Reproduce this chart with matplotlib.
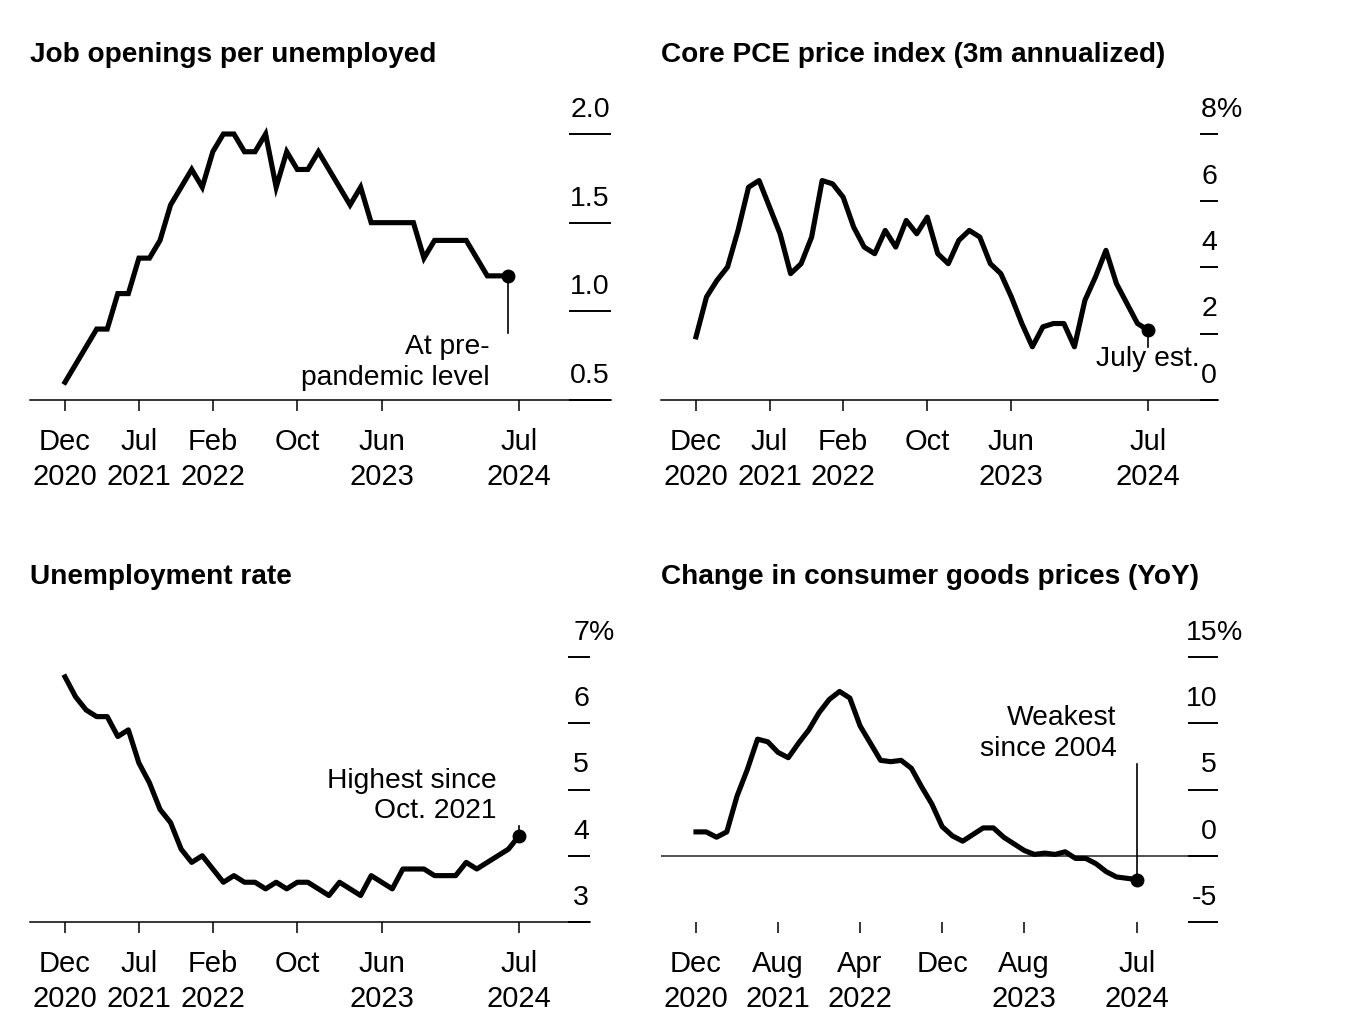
import matplotlib
matplotlib.use("Agg")
import matplotlib.pyplot as plt
import matplotlib.transforms as mtransforms
import numpy as np

plt.rcParams['font.family'] = ['Liberation Sans', 'DejaVu Sans']

# months counted from Dec 2020 (index 0)
job_openings = [0.6, 0.7, 0.8, 0.9, 0.9, 1.1, 1.1, 1.3, 1.3, 1.4, 1.6, 1.7, 1.8, 1.7,
                1.9, 2.0, 2.0, 1.9, 1.9, 2.0, 1.7, 1.9, 1.8, 1.8, 1.9, 1.8, 1.7, 1.6,
                1.7, 1.5, 1.5, 1.5, 1.5, 1.5, 1.3, 1.4, 1.4, 1.4, 1.4, 1.3, 1.2, 1.2, 1.2]
core_pce = [1.9, 3.1, 3.6, 4.0, 5.1, 6.4, 6.6, 5.8, 5.0, 3.8, 4.1, 4.9, 6.6, 6.5, 6.1,
            5.2, 4.6, 4.4, 5.1, 4.6, 5.4, 5.0, 5.5, 4.4, 4.1, 4.8, 5.1, 4.9, 4.1, 3.8,
            3.1, 2.3, 1.6, 2.2, 2.3, 2.3, 1.6, 3.0, 3.7, 4.5, 3.5, 2.9, 2.3, 2.1]
unemployment = [6.7, 6.4, 6.2, 6.1, 6.1, 5.8, 5.9, 5.4, 5.1, 4.7, 4.5, 4.1, 3.9, 4.0,
                3.8, 3.6, 3.7, 3.6, 3.6, 3.5, 3.6, 3.5, 3.6, 3.6, 3.5, 3.4, 3.6, 3.5,
                3.4, 3.7, 3.6, 3.5, 3.8, 3.8, 3.8, 3.7, 3.7, 3.7, 3.9, 3.8, 3.9, 4.0,
                4.1, 4.3]
goods_prices = [1.8, 1.8, 1.4, 1.8, 4.5, 6.5, 8.8, 8.6, 7.8, 7.4, 8.5, 9.5, 10.8, 11.8,
                12.4, 11.9, 9.8, 8.5, 7.2, 7.1, 7.2, 6.6, 5.2, 3.9, 2.2, 1.5, 1.1, 1.6,
                2.1, 2.1, 1.4, 0.9, 0.4, 0.1, 0.2, 0.1, 0.3, -0.2, -0.2, -0.6, -1.2,
                -1.6, -1.7, -1.8]

xticks_a = [0, 7, 14, 22, 30, 43]
xlabels_a = ['Dec\n2020', 'Jul\n2021', 'Feb\n2022', 'Oct', 'Jun\n2023', 'Jul\n2024']
xticks_b = [0, 8, 16, 24, 32, 43]
xlabels_b = ['Dec\n2020', 'Aug\n2021', 'Apr\n2022', 'Dec', 'Aug\n2023', 'Jul\n2024']

W, H = 1370, 1032
fig = plt.figure(figsize=(W / 100, H / 100), dpi=100)

FS_X = 21      # month / year labels
FS_Y = 20.5    # right-hand value labels
FS_T = 20.2    # titles
FS_A = 20.3    # notes
LW = 3.7


def make_axes(left, right, top, bottom, x0, x43, v0, p0, v1, p1):
    ax = fig.add_axes([left / W, 1 - bottom / H, (right - left) / W, (bottom - top) / H])
    ppm = (x43 - x0) / 43
    ax.set_xlim((left - x0) / ppm, (right - x0) / ppm)
    ppu = (p0 - p1) / (v1 - v0)
    ax.set_ylim(v0 - (bottom - p0) / ppu, v0 + (p0 - top) / ppu)
    for s in ['top', 'left', 'right']:
        ax.spines[s].set_visible(False)
    ax.spines['bottom'].set_linewidth(1.1)
    return ax


def style(ax, yticks, ylabels, tick_len, xticks, xlabels, suffix=''):
    ax.set_xticks(xticks)
    ax.set_xticklabels(xlabels, fontsize=FS_X, linespacing=1.3)
    ax.tick_params(axis='x', length=8, width=1.1, pad=12.3, direction='out')
    ax.yaxis.tick_right()
    ax.set_yticks(yticks)
    ax.tick_params(axis='y', direction='in', length=tick_len, width=1.4,
                   labelright=False, labelleft=False)
    off = mtransforms.ScaledTranslation(-0.01, 0.17, fig.dpi_scale_trans)
    tr = mtransforms.blended_transform_factory(ax.transAxes, ax.transData) + off
    for i, (v, lab) in enumerate(zip(yticks, ylabels)):
        ax.text(1.0, v, lab, transform=tr, ha='right', va='baseline', fontsize=FS_Y,
                clip_on=False)
        if suffix and i == len(yticks) - 1:
            ax.text(1.0, v, suffix, transform=tr, ha='left', va='baseline',
                    fontsize=FS_Y, clip_on=False)


def title(x, y, s):
    fig.text(x / W, 1 - y / H, s, fontsize=FS_T, fontweight='bold', ha='left',
             va='baseline')


# --- Job openings per unemployed
ax1 = make_axes(30, 611, 90, 400, 65, 519, 0.5, 400, 2.0, 134)
x1 = np.arange(len(job_openings))
ax1.plot(x1, job_openings, color='black', lw=LW, solid_joinstyle='miter', clip_on=False)
ax1.plot(x1[-1], job_openings[-1], 'o', color='black', ms=9, clip_on=False)
ax1.plot([x1[-1], x1[-1]], [job_openings[-1], 0.88], color='black', lw=1.2)
ax1.text(40.2, 0.873, 'At pre-\npandemic level', ha='right', va='top', fontsize=FS_A,
         linespacing=1.27)
style(ax1, [0.5, 1.0, 1.5, 2.0], ['0.5', '1.0', '1.5', '2.0'], 30, xticks_a, xlabels_a)
title(30, 62, 'Job openings per unemployed')

# --- Core PCE
ax2 = make_axes(661, 1218, 90, 400, 696, 1148, 0, 400, 8, 134)
x2 = np.arange(len(core_pce))
ax2.plot(x2, core_pce, color='black', lw=LW, clip_on=False)
ax2.plot(x2[-1], core_pce[-1], 'o', color='black', ms=9, clip_on=False)
ax2.plot([x2[-1], x2[-1]], [core_pce[-1], 1.6], color='black', lw=1.2)
ax2.text(x2[-1], 1.62, 'July est.', ha='center', va='top', fontsize=FS_A)
style(ax2, [0, 2, 4, 6, 8], ['0', '2', '4', '6', '8'], 13, xticks_a, xlabels_a, '%')
title(661, 62, 'Core PCE price index (3m annualized)')

# --- Unemployment rate
ax3 = make_axes(30, 590, 612, 922, 65, 519, 3, 922, 7, 657)
x3 = np.arange(len(unemployment))
ax3.plot(x3, unemployment, color='black', lw=LW, clip_on=False)
ax3.plot(x3[-1], unemployment[-1], 'o', color='black', ms=9, clip_on=False)
ax3.plot([x3[-1], x3[-1]], [unemployment[-1], 4.45], color='black', lw=1.2)
ax3.text(40.9, 5.325, 'Highest since\nOct. 2021', ha='right', va='top', fontsize=FS_A,
         linespacing=1.2)
style(ax3, [3, 4, 5, 6, 7], ['3', '4', '5', '6', '7'], 16, xticks_a, xlabels_a, '%')
title(30, 584, 'Unemployment rate')

# --- Consumer goods prices
ax4 = make_axes(661, 1218, 612, 922, 696, 1137, -5, 922, 15, 657)
ax4.spines['bottom'].set_visible(False)
ax4.axhline(0, color='#333333', lw=1.2, zorder=1)
x4 = np.arange(len(goods_prices))
ax4.plot(x4, goods_prices, color='black', lw=LW, clip_on=False, zorder=3)
ax4.plot(x4[-1], goods_prices[-1], 'o', color='black', ms=9, clip_on=False, zorder=4)
ax4.plot([x4[-1], x4[-1]], [goods_prices[-1], 6.9], color='black', lw=1.2)
ax4.text(41.0, 11.37, 'Weakest\nsince 2004', ha='right', va='top', fontsize=FS_A,
         linespacing=1.24)
style(ax4, [-5, 0, 5, 10, 15], ['-5', '0', '5', '10', '15'], 21.6, xticks_b, xlabels_b, '%')
title(661, 584, 'Change in consumer goods prices (YoY)')

fig.savefig('out.png', dpi=100, facecolor='white')
